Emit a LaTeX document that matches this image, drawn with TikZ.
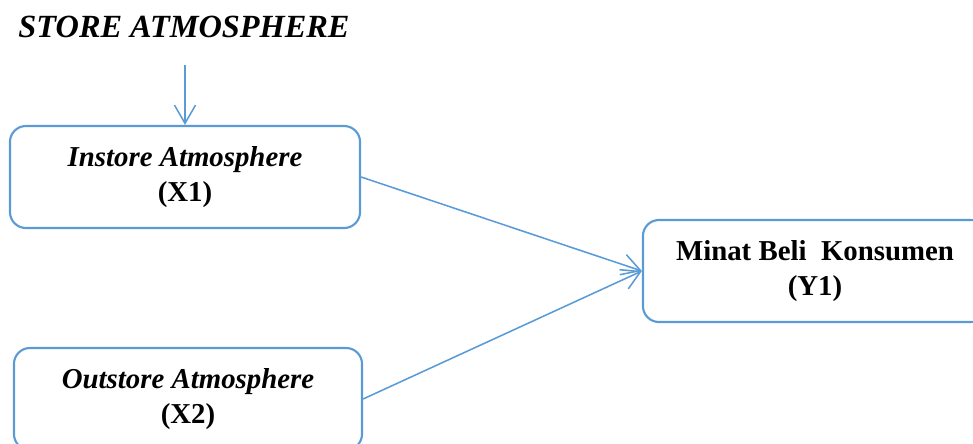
\documentclass[tikz,border=0pt]{standalone}
\usepackage{fontspec}
\setmainfont{Liberation Serif}
\usetikzlibrary{arrows.meta}
\definecolor{lineblue}{RGB}{91,155,213}

\tikzset{
  varbox/.style={draw=lineblue, line width=1.5pt, rounded corners=0.4cm, align=center,
    inner sep=0pt, minimum height=2.55cm,
    font=\fontsize{20.5}{24.5}\selectfont\bfseries},
  link/.style={draw=lineblue, line width=1.1pt, -{Straight Barb[length=13pt,width=15pt]}}
}

\begin{document}
\begin{tikzpicture}[x=0.025cm,y=-0.025cm]
       \useasboundingbox (0,0) rectangle (973,443);
       \clip (0,0) rectangle (973,443);

       \node(T) at (184,27) {\fontsize{23}{26}\selectfont\bfseries\itshape STORE ATMOSPHERE};
       \coordinate(TA) at (185,65);

       \node(X1)[varbox, minimum width=8.75cm] at (185,177) {\textit{Instore Atmosphere}\\(X1)};
       \node(X2)[varbox, minimum width=8.7cm] at (188,399) {\textit{Outstore Atmosphere}\\(X2)};
       \node(Y1)[varbox, minimum width=8.6cm] at (815,271) {Minat Beli\ \ Konsumen\\(Y1)};

       \draw[link] (TA) -- (X1.north);
       \draw[link] (X1.east) -- (Y1.west);
       \draw[link] (X2.east) -- (Y1.west);
\end{tikzpicture}
\end{document}
